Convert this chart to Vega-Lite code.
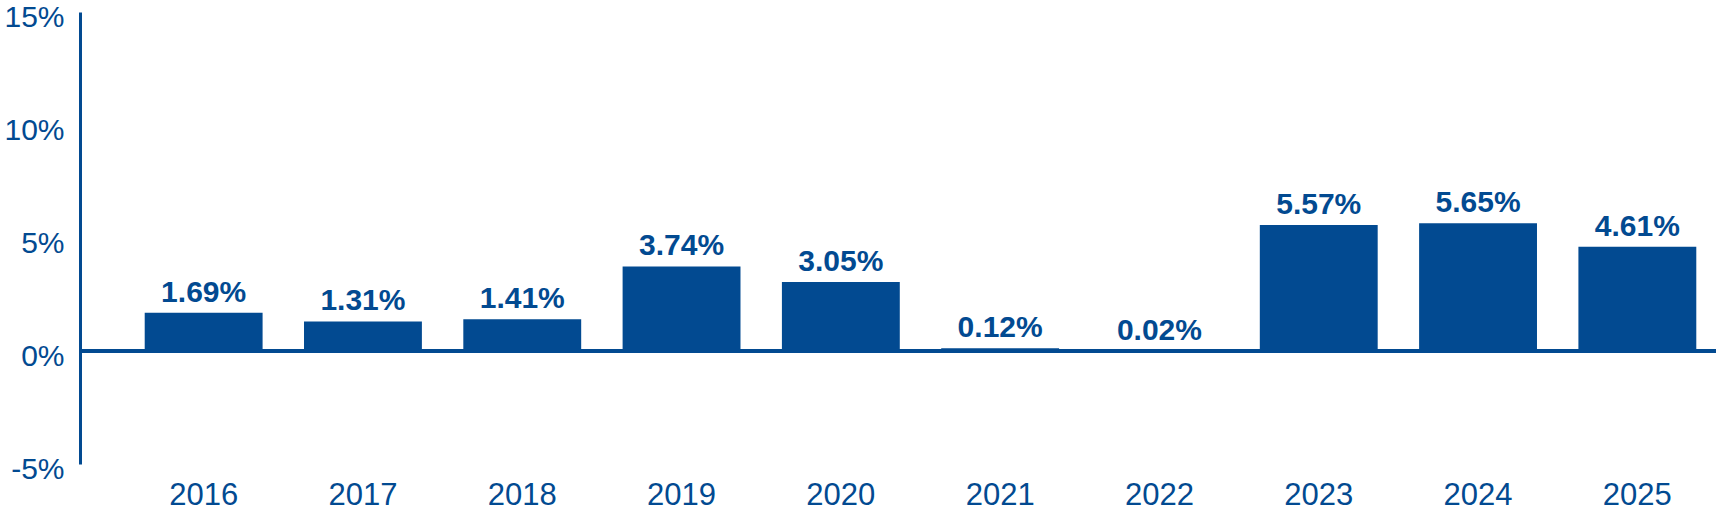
{
  "$schema": "https://vega.github.io/schema/vega-lite/v6.json",
  "width": 1636,
  "height": 452,
  "autosize": "none",
  "padding": {"left": 80, "top": 12, "right": 0, "bottom": 47},
  "background": "white",
  "config": {
    "view": {"stroke": null},
    "font": "Liberation Sans"
  },
  "data": {
    "values": [
      {"year": "2016", "value": 1.69},
      {"year": "2017", "value": 1.31},
      {"year": "2018", "value": 1.41},
      {"year": "2019", "value": 3.74},
      {"year": "2020", "value": 3.05},
      {"year": "2021", "value": 0.12},
      {"year": "2022", "value": 0.02},
      {"year": "2023", "value": 5.57},
      {"year": "2024", "value": 5.65},
      {"year": "2025", "value": 4.61}
    ]
  },
  "encoding": {
    "x": {
      "field": "year",
      "type": "nominal",
      "sort": null,
      "title": null,
      "scale": {"range": [44, 1637], "paddingInner": 0.26, "paddingOuter": 0.13},
      "axis": {
        "domain": false,
        "ticks": false,
        "labelAngle": 0,
        "labelFont": "Liberation Sans",
        "labelFontSize": 31,
        "labelColor": "#024A91",
        "labelPadding": 16
      }
    },
    "y": {
      "field": "value",
      "type": "quantitative",
      "title": null,
      "scale": {"domain": [-5, 15], "nice": false},
      "axis": {
        "values": [-5, 0, 5, 10, 15],
        "labelExpr": "datum.value + '%'",
        "grid": false,
        "ticks": false,
        "domainColor": "#024A91",
        "domainWidth": 3,
        "labelFont": "Liberation Sans",
        "labelFontSize": 30,
        "labelColor": "#024A91",
        "labelPadding": 16,
        "labelOffset": 5
      }
    }
  },
  "layer": [
    {
      "mark": {"type": "bar", "color": "#024A91"}
    },
    {
      "mark": {"type": "rule", "color": "#024A91", "strokeWidth": 4},
      "encoding": {"y": {"datum": 0}, "x": null}
    },
    {
      "mark": {
        "type": "text",
        "baseline": "alphabetic",
        "dy": -11,
        "fontSize": 30,
        "fontWeight": "bold",
        "font": "Liberation Sans",
        "color": "#024A91",
        "text": {"expr": "format(datum.value, '.2f') + '%'"}
      },
      "encoding": {
        "y": {"field": "value", "type": "quantitative"}
      }
    }
  ]
}
